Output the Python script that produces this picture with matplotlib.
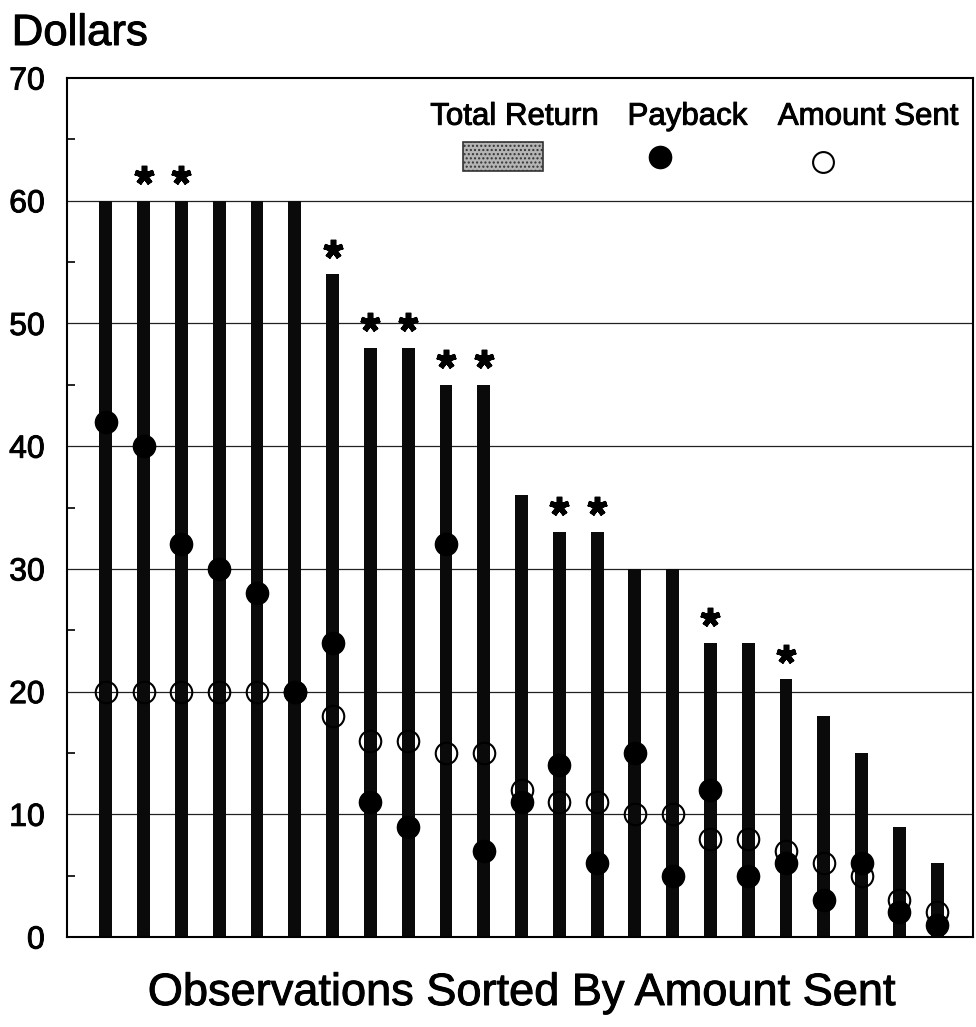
import numpy as np
import matplotlib
matplotlib.use("Agg")
import matplotlib.pyplot as plt
import matplotlib.patheffects as pe
from matplotlib.patches import Rectangle

plt.rcParams['font.family'] = ['Liberation Sans', 'DejaVu Sans']

# observations, sorted by amount sent
obs = np.arange(1, 24)
total_return = [60, 60, 60, 60, 60, 60, 54, 48, 48, 45, 45, 36,
                33, 33, 30, 30, 24, 24, 21, 18, 15, 9, 6]
payback = [42, 40, 32, 30, 28, 20, 24, 11, 9, 32, 7, 11,
           14, 6, 15, 5, 12, 5, 6, 3, 6, 2, 1]
amount_sent = [20, 20, 20, 20, 20, 20, 18, 16, 16, 15, 15, 12,
               11, 11, 10, 10, 8, 8, 7, 6, 5, 3, 2]
# observations flagged with an asterisk
starred = [2, 3, 7, 8, 9, 10, 11, 13, 14, 17, 19]

# slightly heavier strokes on the type
heavy = [pe.withStroke(linewidth=0.7, foreground='black')]

fig = plt.figure(figsize=(9.76, 10.27), dpi=100)
ax = fig.add_axes([0.0686, 0.0876, 0.9284, 0.8364])

ax.set_xlim(-0.03, 23.95)
ax.set_ylim(0, 70)

# horizontal rules every 10 dollars
for y in range(10, 70, 10):
    ax.axhline(y, color='#222222', lw=0.9, zorder=1)

ax.bar(obs, total_return, width=0.34, color='#0a0a0a', zorder=2)
ax.plot(obs, amount_sent, linestyle='none', marker='o', markersize=15.5,
        markerfacecolor='none', markeredgecolor='black', markeredgewidth=1.5,
        zorder=3)
ax.plot(obs, payback, linestyle='none', marker='o', markersize=16,
        color='black', zorder=4)

star_x = [o for o in starred]
star_y = [total_return[o - 1] + 2.1 for o in starred]
ax.plot(star_x, star_y, linestyle='none', marker=(5, 2, 0), markersize=14,
        markeredgewidth=4, color='black', zorder=4)

for s in ax.spines.values():
    s.set_linewidth(1.5)

ax.set_xticks([])
ax.set_yticks(range(0, 80, 10))
ax.set_yticks(range(5, 70, 10), minor=True)
ax.tick_params(axis='y', which='major', length=0, pad=16, labelsize=23)
ax.tick_params(axis='y', which='minor', direction='in', length=6, width=1.2)
for lab in ax.get_yticklabels():
    lab.set_path_effects(heavy)

# legend: label above its symbol
leg_y_txt = 0.955
leg_y_sym = 0.908
for x, label in [(0.494, 'Total Return'), (0.685, 'Payback'),
                 (0.884, 'Amount Sent')]:
    ax.text(x, leg_y_txt, label, transform=ax.transAxes, ha='center',
            va='center', fontsize=22.5, path_effects=heavy)
ax.add_patch(Rectangle((0.437, 0.892), 0.088, 0.033, transform=ax.transAxes,
                       facecolor='#b4b4b4', edgecolor='#333333', hatch='....',
                       lw=1.2, zorder=5))
ax.plot([0.655], [leg_y_sym], transform=ax.transAxes, marker='o',
        markersize=16, color='black', zorder=5)
ax.plot([0.834], [0.902], transform=ax.transAxes, marker='o',
        markersize=15, markerfacecolor='white', markeredgecolor='black',
        markeredgewidth=1.5, zorder=5)

fig.text(0.012, 1 - 45 / 1027, 'Dollars', fontsize=31.5, va='baseline',
         path_effects=heavy)
fig.text(0.534, 1 - 1005 / 1027, 'Observations Sorted By Amount Sent',
         fontsize=32.5, ha='center', va='baseline', path_effects=heavy)

fig.savefig('out.png', dpi=100)
